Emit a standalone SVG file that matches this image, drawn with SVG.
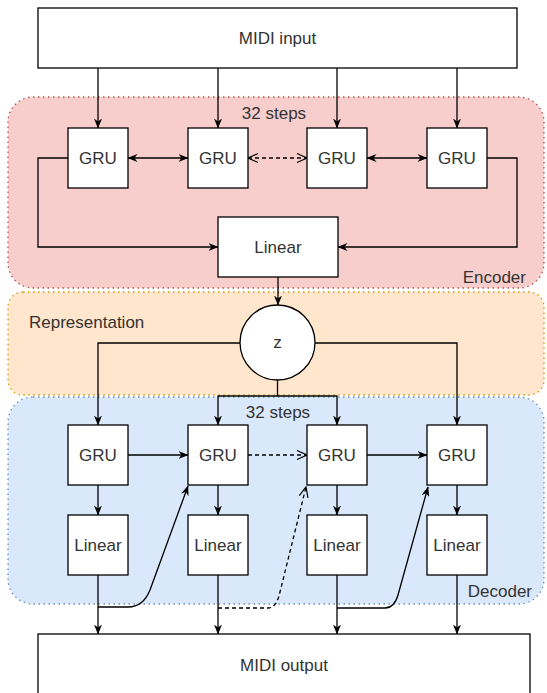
<svg xmlns="http://www.w3.org/2000/svg" width="547" height="693" viewBox="0 0 547 693">
<style>
.region{stroke-width:1.3;stroke-dasharray:1.5 3.5}
.box{fill:#fff;stroke:#000;stroke-width:1.3}
.t{font-family:"Liberation Sans",Arial,Helvetica,sans-serif;font-size:17px;fill:#333}
.c{text-anchor:middle}
.e{fill:none;stroke:#000;stroke-width:1.3}
.d{stroke-dasharray:4 3}
</style>
<defs>
<marker id="arr" viewBox="0 0 10 8" refX="9.5" refY="4" markerWidth="10" markerHeight="8" markerUnits="userSpaceOnUse" orient="auto-start-reverse">
<path d="M0,0 L10,4 L0,8 L3,4 Z" fill="#000"/>
</marker>
<marker id="open" viewBox="0 0 12 10" refX="11" refY="5" markerWidth="12" markerHeight="10" markerUnits="userSpaceOnUse" orient="auto-start-reverse">
<path d="M1,0.5 L11,5 L1,9.5" fill="none" stroke="#000" stroke-width="1.2"/>
</marker>
</defs>

<g id="encoder-region">
<rect class="region" x="8" y="97" width="536" height="191" rx="25" fill="#f8cecc" stroke="#b85450"/>
<text class="t c" x="274" y="119">32 steps</text>
<text class="t" x="526" y="283" text-anchor="end">Encoder</text>
</g>
<g id="representation-region">
<rect class="region" x="8" y="292" width="536" height="103" rx="15" fill="#ffe6cc" stroke="#d79b00"/>
<text class="t" x="29" y="328">Representation</text>
</g>
<g id="decoder-region">
<rect class="region" x="8" y="397" width="536" height="207" rx="25" fill="#dae8fc" stroke="#6c8ebf"/>
<text class="t c" x="278" y="418">32 steps</text>
<text class="t" x="532" y="597" text-anchor="end">Decoder</text>
</g>

<g id="connectors">
<path class="e" d="M98,68 V128" marker-end="url(#arr)"/>
<path class="e" d="M218,68 V128" marker-end="url(#arr)"/>
<path class="e" d="M337,68 V128" marker-end="url(#arr)"/>
<path class="e" d="M457,68 V128" marker-end="url(#arr)"/>
<path class="e" d="M128,158 H188" marker-start="url(#arr)" marker-end="url(#arr)"/>
<path class="e d" d="M248,158 H307" marker-start="url(#open)" marker-end="url(#open)"/>
<path class="e" d="M367,158 H427" marker-start="url(#arr)" marker-end="url(#arr)"/>
<path class="e" d="M68,158 H38 V247 H218" marker-end="url(#arr)"/>
<path class="e" d="M487,158 H517 V247 H338" marker-end="url(#arr)"/>
<path class="e" d="M278,277 V305" marker-end="url(#arr)"/>
<path class="e" d="M240,343 H98 V425" marker-end="url(#arr)"/>
<path class="e" d="M315,343 H457 V425" marker-end="url(#arr)"/>
<path class="e" d="M277.5,380 V396 H218 V425" marker-end="url(#arr)"/>
<path class="e" d="M277.5,396 H337 V425" marker-end="url(#arr)"/>
<path class="e" d="M128,455 H188" marker-end="url(#arr)"/>
<path class="e d" d="M248,455 H307" marker-end="url(#open)"/>
<path class="e" d="M367,455 H427" marker-end="url(#arr)"/>
<path class="e" d="M98,485 V515" marker-end="url(#arr)"/>
<path class="e" d="M218,485 V515" marker-end="url(#arr)"/>
<path class="e" d="M337,485 V515" marker-end="url(#arr)"/>
<path class="e" d="M457,485 V515" marker-end="url(#arr)"/>
<path class="e" d="M98,575 V634" marker-end="url(#arr)"/>
<path class="e" d="M218,575 V634" marker-end="url(#arr)"/>
<path class="e" d="M337,575 V634" marker-end="url(#arr)"/>
<path class="e" d="M457,575 V634" marker-end="url(#arr)"/>
<path class="e" d="M98,607 H128 C140,607 146,600 150,590 L188,486" marker-end="url(#arr)"/>
<path class="e d" d="M218,608 H268 C275,608 278,601 280,592 L306,487" marker-end="url(#open)"/>
<path class="e" d="M337,608 H385 C393,608 396,602 398,595 L428,487" marker-end="url(#arr)"/>
</g>

<g id="midi-input"><rect class="box" x="38" y="8" width="479" height="60"/><text class="t c" x="277.5" y="44">MIDI input</text></g>
<g id="enc-gru-1"><rect class="box" x="68" y="128" width="60" height="60"/><text class="t c" x="98" y="164">GRU</text></g>
<g id="enc-gru-2"><rect class="box" x="188" y="128" width="60" height="60"/><text class="t c" x="218" y="164">GRU</text></g>
<g id="enc-gru-3"><rect class="box" x="307" y="128" width="60" height="60"/><text class="t c" x="337" y="164">GRU</text></g>
<g id="enc-gru-4"><rect class="box" x="427" y="128" width="60" height="60"/><text class="t c" x="457" y="164">GRU</text></g>
<g id="enc-linear"><rect class="box" x="218" y="217" width="120" height="60"/><text class="t c" x="278" y="253">Linear</text></g>
<g id="z"><circle class="box" cx="277.5" cy="342.5" r="37.5"/><text class="t c" x="277.5" y="348">z</text></g>
<g id="dec-gru-1"><rect class="box" x="68" y="425" width="60" height="60"/><text class="t c" x="98" y="461">GRU</text></g>
<g id="dec-gru-2"><rect class="box" x="188" y="425" width="60" height="60"/><text class="t c" x="218" y="461">GRU</text></g>
<g id="dec-gru-3"><rect class="box" x="307" y="425" width="60" height="60"/><text class="t c" x="337" y="461">GRU</text></g>
<g id="dec-gru-4"><rect class="box" x="427" y="425" width="60" height="60"/><text class="t c" x="457" y="461">GRU</text></g>
<g id="dec-linear-1"><rect class="box" x="68" y="515" width="60" height="60"/><text class="t c" x="98" y="551">Linear</text></g>
<g id="dec-linear-2"><rect class="box" x="188" y="515" width="60" height="60"/><text class="t c" x="218" y="551">Linear</text></g>
<g id="dec-linear-3"><rect class="box" x="307" y="515" width="60" height="60"/><text class="t c" x="337" y="551">Linear</text></g>
<g id="dec-linear-4"><rect class="box" x="427" y="515" width="60" height="60"/><text class="t c" x="457" y="551">Linear</text></g>
<g id="midi-output"><rect class="box" x="38" y="634" width="492" height="62"/><text class="t c" x="284" y="671">MIDI output</text></g>
</svg>
